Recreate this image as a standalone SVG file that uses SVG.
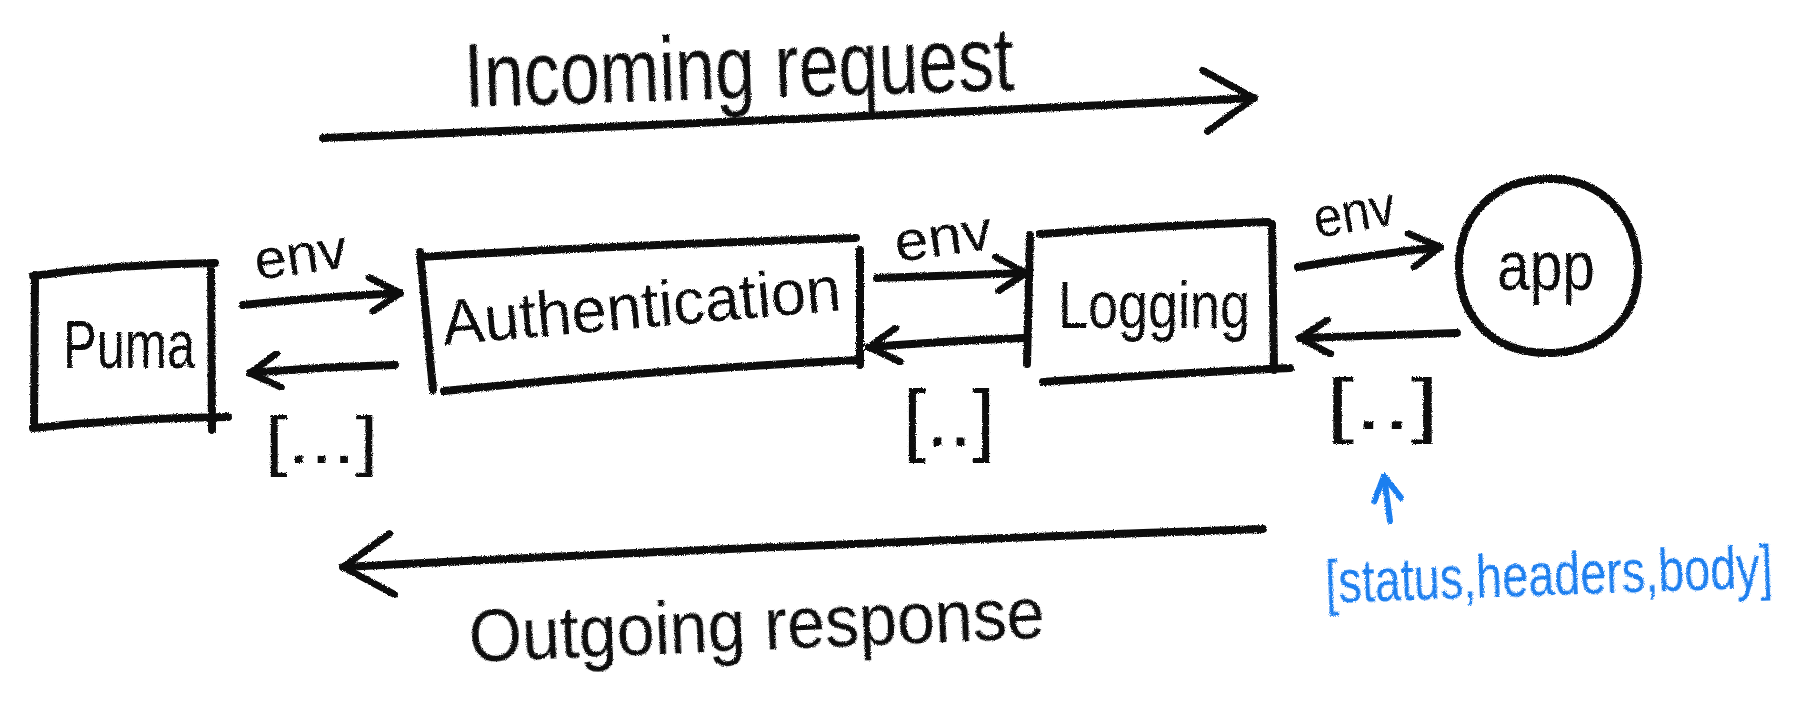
<svg xmlns="http://www.w3.org/2000/svg" width="1810" height="728" viewBox="0 0 1810 728">
<style>
.ink{fill:none;stroke:#111;stroke-width:8;stroke-linecap:round;stroke-linejoin:round}
.blue{fill:none;stroke:#1f7fef;stroke-width:6;stroke-linecap:round;stroke-linejoin:round}
.t{font-family:"Liberation Sans",Arial,sans-serif;fill:#111}
.tb{font-family:"Liberation Sans",Arial,sans-serif;fill:#1f7fef}
</style>
<defs>
<filter id="chalk" filterUnits="userSpaceOnUse" x="0" y="0" width="1810" height="728">
<feTurbulence type="fractalNoise" baseFrequency="0.9" numOctaves="2" seed="3" result="n"/>
<feDisplacementMap in="SourceGraphic" in2="n" scale="3" xChannelSelector="R" yChannelSelector="G"/>
</filter>
<marker id="ah" viewBox="0 0 40 40" refX="36" refY="20" markerWidth="40" markerHeight="40" markerUnits="userSpaceOnUse" orient="auto">
<path d="M6,3 L36,20 L8,37" fill="none" stroke="#111" stroke-width="7" stroke-linecap="round" stroke-linejoin="round"/>
</marker>
<marker id="bigah" viewBox="0 0 64 70" refX="58" refY="35" markerWidth="64" markerHeight="70" markerUnits="userSpaceOnUse" orient="auto">
<path d="M8,5 L58,35 L10,66" fill="none" stroke="#111" stroke-width="7" stroke-linecap="round" stroke-linejoin="round"/>
</marker>
<marker id="blueah" viewBox="0 0 34 34" refX="30" refY="17" markerWidth="34" markerHeight="34" markerUnits="userSpaceOnUse" orient="auto">
<path d="M6,4 L30,17 L6,31" fill="none" stroke="#1f7fef" stroke-width="6" stroke-linecap="round" stroke-linejoin="round"/>
</marker>
</defs>
<rect width="1810" height="728" fill="#fff"/>
<g filter="url(#chalk)">
<g id="puma">
<path class="ink" d="M33,276 Q120,264 215,263 M211,265 L212,430 M33,428 Q130,418 228,417 M35,275 L34,428"/>
<text class="t" x="63" y="368" font-size="68" textLength="132" lengthAdjust="spacingAndGlyphs">Puma</text>
</g>
<g id="authentication">
<path class="ink" d="M420,257 Q640,244 856,238 M420,252 L433,390 M860,250 L860,365 M444,391 Q650,370 860,360"/>
<text class="t" x="444" y="345" font-size="64" textLength="400" lengthAdjust="spacingAndGlyphs" transform="rotate(-5 444 345)">Authentication</text>
</g>
<g id="logging">
<path class="ink" d="M1040,234 Q1150,226 1268,222 M1030,235 L1027,364 M1272,224 L1274,370 M1043,382 Q1160,374 1290,368"/>
<text class="t" x="1058" y="328" font-size="66" textLength="192" lengthAdjust="spacingAndGlyphs">Logging</text>
</g>
<g id="app">
<path class="ink" d="M1548,179 C1600,178 1638,215 1638,270 C1638,320 1600,353 1548,353 C1495,353 1459,320 1459,266 C1459,215 1495,179 1548,179 Z"/>
<text class="t" x="1497" y="290" font-size="70" textLength="98" lengthAdjust="spacingAndGlyphs">app</text>
</g>
<g id="connectors">
<path class="ink" d="M323,138 Q800,120 1254,98" marker-end="url(#bigah)"/>
<path class="ink" d="M1263,529 Q800,544 343,567" marker-end="url(#bigah)"/>
<path class="ink" d="M243,305 Q320,297 400,293" marker-end="url(#ah)"/>
<path class="ink" d="M395,365 Q320,367 250,373" marker-end="url(#ah)"/>
<path class="ink" d="M877,278 L1026,273" marker-end="url(#ah)"/>
<path class="ink" d="M1023,338 Q950,341 869,347" marker-end="url(#ah)"/>
<path class="ink" d="M1298,267 Q1370,255 1440,247" marker-end="url(#ah)"/>
<path class="ink" d="M1457,333 L1300,338" marker-end="url(#ah)"/>
<path class="blue" d="M1390,521 L1384,476" marker-end="url(#blueah)"/>
</g>
<g id="labels">
<text class="t" x="465" y="107" font-size="90" textLength="550" lengthAdjust="spacingAndGlyphs" transform="rotate(-1.8 465 107)">Incoming request</text>
<text class="t" x="470" y="662" font-size="75" textLength="576" lengthAdjust="spacingAndGlyphs" transform="rotate(-2.4 470 662)">Outgoing response</text>
<text class="t" x="257" y="280" font-size="56" textLength="93" lengthAdjust="spacingAndGlyphs" transform="rotate(-8 257 280)">env</text>
<text class="t" x="897" y="262" font-size="56" textLength="98" lengthAdjust="spacingAndGlyphs" transform="rotate(-8 897 262)">env</text>
<text class="t" x="1317" y="238" font-size="56" textLength="82" lengthAdjust="spacingAndGlyphs" transform="rotate(-10 1317 238)">env</text>
<text class="t" x="265" y="463" font-size="66" textLength="113" lengthAdjust="spacingAndGlyphs">[...]</text>
<text class="t" x="903" y="446" font-size="80" textLength="92" lengthAdjust="spacingAndGlyphs">[..]</text>
<text class="t" x="1326" y="429" font-size="73" textLength="113" lengthAdjust="spacingAndGlyphs">[..]</text>
<text class="tb" x="0" y="0" font-size="62" transform="translate(1326 603) rotate(-2) scale(0.755 1)">[status,headers,body]</text>
</g>
</g>
</svg>
